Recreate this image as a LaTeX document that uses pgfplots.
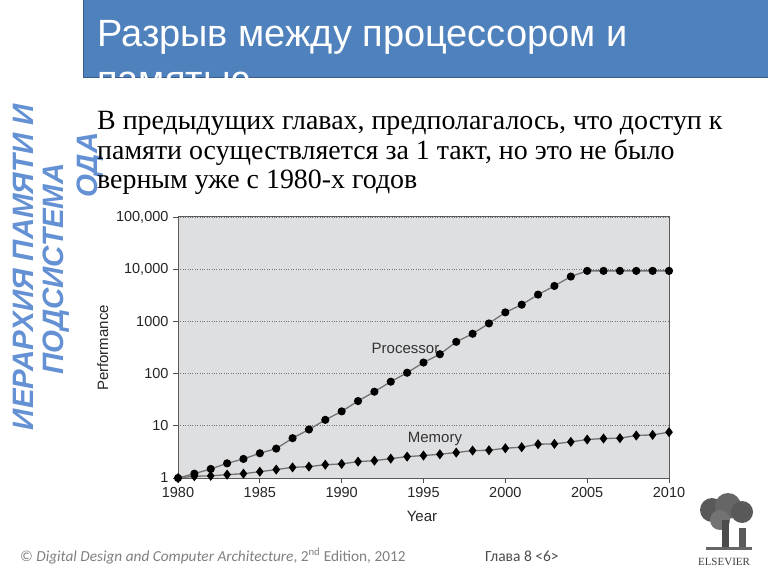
\documentclass[border=0pt]{standalone}
\usepackage{fontspec}
\usepackage{pgfplots}
\pgfplotsset{compat=1.18}
\setmainfont{Liberation Serif}
\newfontfamily\arial{Liberation Sans}
\newfontfamily\calibri{Carlito}

\definecolor{titleblue}{RGB}{79,129,189}
\definecolor{titleedge}{RGB}{56,93,138}
\definecolor{sideblue}{RGB}{100,145,212}
\definecolor{chartbg}{RGB}{222,223,225}
\definecolor{footgray}{RGB}{128,128,128}

\begin{document}
\begin{tikzpicture}[x=1pt,y=1pt]
\useasboundingbox (0,0) rectangle (768,576);
\fill[white] (0,0) rectangle (768,576);

% title bar
\fill[titleblue] (83,498) rectangle (770,578);
\draw[titleedge, line width=1pt] (83,498) rectangle (770,578);
\begin{scope}
\clip (83,498) rectangle (768,576);
\node[anchor=base west, inner sep=0pt, text=white] at (97,529) {\arial\fontsize{38}{40}\selectfont Разрыв между процессором и};
\node[anchor=base west, inner sep=0pt, text=white] at (97,483) {\arial\fontsize{38}{40}\selectfont памятью};
\end{scope}

% vertical side text
\node[rotate=90, anchor=base, inner sep=0pt, text=sideblue] at (33,309) {\arial\bfseries\itshape\fontsize{29.5}{31}\selectfont ИЕРАРХИЯ ПАМЯТИ И};
\node[rotate=90, anchor=base, inner sep=0pt, text=sideblue] at (63,307) {\arial\bfseries\itshape\fontsize{29.5}{31}\selectfont ПОДСИСТЕМА};
\node[rotate=90, anchor=base, inner sep=0pt, text=sideblue] at (97,411) {\arial\bfseries\itshape\fontsize{29.5}{31}\selectfont ОДА};

% body text
\node[anchor=base west, inner sep=0pt] at (97,446) {\fontsize{27.9}{29}\selectfont В предыдущих главах, предполагалось, что доступ к};
\node[anchor=base west, inner sep=0pt] at (97,416) {\fontsize{27.9}{29}\selectfont памяти осуществляется за 1 такт, но это не было};
\node[anchor=base west, inner sep=0pt] at (97,387) {\fontsize{27.9}{29}\selectfont верным уже с 1980-х годов};

\begin{axis}[
    at={(178pt,98pt)}, anchor=south west,
    scale only axis, width=491pt, height=261pt,
    xmin=1980, xmax=2010,
    ymode=log, ymin=1, ymax=100000,
    xtick={1980,1985,...,2010},
    ytick={1,10,100,1000,10000,100000},
    yticklabels={1,10,100,1000,{10,000},{100,000}},
    yminorticks=false,
    tick pos=left, tick align=outside,
    major tick length=5pt,
    tick style={black!70, line width=0.8pt},
    ymajorgrids,
    grid style={dotted, black!55, line width=0.8pt},
    axis background/.style={fill=chartbg},
    axis line style={black!65, line width=1pt},
    tick label style={font=\arial\fontsize{14.5}{14.5}\selectfont, text=black!85},
    /pgf/number format/assume math mode=true,
    x tick label style={/pgf/number format/1000 sep={}, yshift=-1pt},
    y tick label style={xshift=-1pt},
    clip=false,
]
% Processor
\addplot[black!55, line width=1.3pt, mark=*, mark size=3.4pt, mark options={fill=black, draw=black, solid}] coordinates {
(1980,1) (1981,1.21) (1982,1.49) (1983,1.91) (1984,2.32) (1985,2.98)
(1986,3.66) (1987,5.79) (1988,8.5) (1989,13.0) (1990,18.9) (1991,29.8)
(1992,45) (1993,70) (1994,104) (1995,163) (1996,235) (1997,406)
(1998,580) (1999,915) (2000,1490) (2001,2093) (2002,3260) (2003,4780)
(2004,7230) (2005,9290) (2006,9290) (2007,9290) (2008,9290) (2009,9290) (2010,9290)
};
% Memory
\addplot[black!55, line width=1.3pt, mark=diamond*, mark size=4pt, mark options={fill=black, draw=black, solid}] coordinates {
(1980,1) (1981,1.08) (1982,1.1) (1983,1.16) (1984,1.21) (1985,1.32)
(1986,1.45) (1987,1.6) (1988,1.65) (1989,1.8) (1990,1.86) (1991,2.06)
(1992,2.15) (1993,2.35) (1994,2.57) (1995,2.69) (1996,2.85) (1997,3.07)
(1998,3.35) (1999,3.4) (2000,3.72) (2001,3.89) (2002,4.44) (2003,4.5)
(2004,4.92) (2005,5.46) (2006,5.71) (2007,5.79) (2008,6.52) (2009,6.7) (2010,7.55)
};
\node[font=\arial\fontsize{15}{15}\selectfont, text=black!80] at (axis cs:1993.9,309) {Processor};
\node[font=\arial\fontsize{15}{15}\selectfont, text=black!80] at (axis cs:1995.7,5.6) {Memory};
\end{axis}

% axis titles
\node[rotate=90, anchor=base, inner sep=0pt, text=black!85] at (108,228) {\arial\fontsize{15}{15}\selectfont Performance};
\node[anchor=base, inner sep=0pt, text=black!85] at (422,55) {\arial\fontsize{15}{15}\selectfont Year};

% footer
\node[anchor=base west, inner sep=0pt, text=footgray] at (20,15) {\calibri\fontsize{15.3}{15}\selectfont © \textit{Digital Design and Computer Architecture}, 2\textsuperscript{nd} Edition, 2012};
\node[anchor=base west, inner sep=0pt, text=black!70] at (485,15) {\calibri\fontsize{15.5}{15}\selectfont Глава 8 <6>};

% publisher mark
\fill[black!65] (712,66) circle (12);
\fill[black!60] (728,70) circle (13);
\fill[black!65] (742,64) circle (11);
\fill[black!55] (720,56) circle (10);
\fill[black!70] (722,26) rectangle (729,56);
\fill[black!65] (739,26) rectangle (746,48);
\fill[black!60] (706,26) rectangle (752,29);
\node[anchor=base, inner sep=0pt, text=black!75] at (724,11) {\fontsize{11}{11}\selectfont ELSEVIER};
\end{tikzpicture}
\end{document}
